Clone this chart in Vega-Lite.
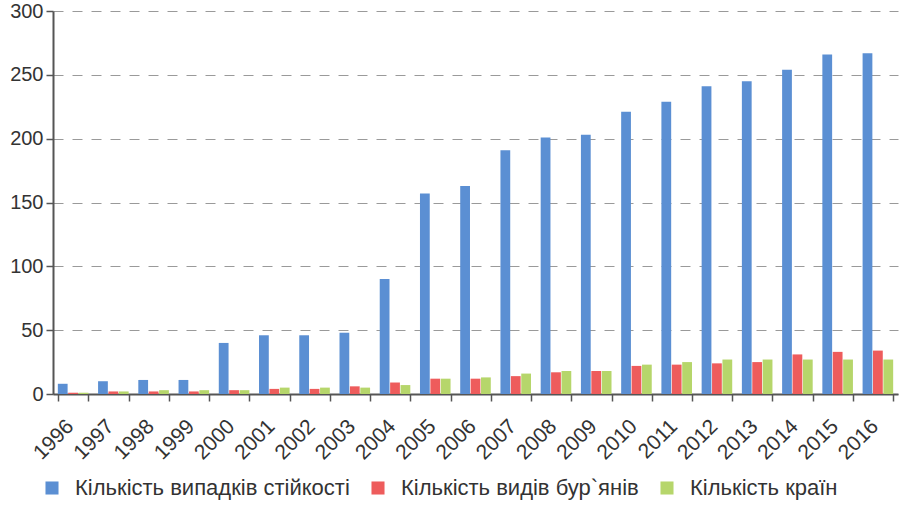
{
  "$schema": "https://vega.github.io/schema/vega-lite/v6.json",
  "width": 845,
  "height": 383,
  "autosize": {"type": "none"},
  "padding": {"left": 53, "top": 11, "right": 2, "bottom": 115},
  "background": "white",
  "config": {
    "view": {"stroke": null},
    "font": "Liberation Sans",
    "axis": {"labelFont": "Liberation Sans", "labelColor": "#333333", "domainColor": "#555555", "tickColor": "#555555"}
  },
  "data": {
    "values": [
      {"year": "1996", "series": "Кількість випадків стійкості", "value": 8},
      {"year": "1997", "series": "Кількість випадків стійкості", "value": 10},
      {"year": "1998", "series": "Кількість випадків стійкості", "value": 11},
      {"year": "1999", "series": "Кількість випадків стійкості", "value": 11},
      {"year": "2000", "series": "Кількість випадків стійкості", "value": 40},
      {"year": "2001", "series": "Кількість випадків стійкості", "value": 46},
      {"year": "2002", "series": "Кількість випадків стійкості", "value": 46},
      {"year": "2003", "series": "Кількість випадків стійкості", "value": 48},
      {"year": "2004", "series": "Кількість випадків стійкості", "value": 90},
      {"year": "2005", "series": "Кількість випадків стійкості", "value": 157},
      {"year": "2006", "series": "Кількість випадків стійкості", "value": 163},
      {"year": "2007", "series": "Кількість випадків стійкості", "value": 191},
      {"year": "2008", "series": "Кількість випадків стійкості", "value": 201},
      {"year": "2009", "series": "Кількість випадків стійкості", "value": 203},
      {"year": "2010", "series": "Кількість випадків стійкості", "value": 221},
      {"year": "2011", "series": "Кількість випадків стійкості", "value": 229},
      {"year": "2012", "series": "Кількість випадків стійкості", "value": 241},
      {"year": "2013", "series": "Кількість випадків стійкості", "value": 245},
      {"year": "2014", "series": "Кількість випадків стійкості", "value": 254},
      {"year": "2015", "series": "Кількість випадків стійкості", "value": 266},
      {"year": "2016", "series": "Кількість випадків стійкості", "value": 267},
      {"year": "1996", "series": "Кількість видів бур`янів", "value": 1},
      {"year": "1997", "series": "Кількість видів бур`янів", "value": 2},
      {"year": "1998", "series": "Кількість видів бур`янів", "value": 2},
      {"year": "1999", "series": "Кількість видів бур`янів", "value": 2},
      {"year": "2000", "series": "Кількість видів бур`янів", "value": 3},
      {"year": "2001", "series": "Кількість видів бур`янів", "value": 4},
      {"year": "2002", "series": "Кількість видів бур`янів", "value": 4},
      {"year": "2003", "series": "Кількість видів бур`янів", "value": 6},
      {"year": "2004", "series": "Кількість видів бур`янів", "value": 9},
      {"year": "2005", "series": "Кількість видів бур`янів", "value": 12},
      {"year": "2006", "series": "Кількість видів бур`янів", "value": 12},
      {"year": "2007", "series": "Кількість видів бур`янів", "value": 14},
      {"year": "2008", "series": "Кількість видів бур`янів", "value": 17},
      {"year": "2009", "series": "Кількість видів бур`янів", "value": 18},
      {"year": "2010", "series": "Кількість видів бур`янів", "value": 22},
      {"year": "2011", "series": "Кількість видів бур`янів", "value": 23},
      {"year": "2012", "series": "Кількість видів бур`янів", "value": 24},
      {"year": "2013", "series": "Кількість видів бур`янів", "value": 25},
      {"year": "2014", "series": "Кількість видів бур`янів", "value": 31},
      {"year": "2015", "series": "Кількість видів бур`янів", "value": 33},
      {"year": "2016", "series": "Кількість видів бур`янів", "value": 34},
      {"year": "1996", "series": "Кількість країн", "value": 1},
      {"year": "1997", "series": "Кількість країн", "value": 2},
      {"year": "1998", "series": "Кількість країн", "value": 3},
      {"year": "1999", "series": "Кількість країн", "value": 3},
      {"year": "2000", "series": "Кількість країн", "value": 3},
      {"year": "2001", "series": "Кількість країн", "value": 5},
      {"year": "2002", "series": "Кількість країн", "value": 5},
      {"year": "2003", "series": "Кількість країн", "value": 5},
      {"year": "2004", "series": "Кількість країн", "value": 7},
      {"year": "2005", "series": "Кількість країн", "value": 12},
      {"year": "2006", "series": "Кількість країн", "value": 13},
      {"year": "2007", "series": "Кількість країн", "value": 16},
      {"year": "2008", "series": "Кількість країн", "value": 18},
      {"year": "2009", "series": "Кількість країн", "value": 18},
      {"year": "2010", "series": "Кількість країн", "value": 23},
      {"year": "2011", "series": "Кількість країн", "value": 25},
      {"year": "2012", "series": "Кількість країн", "value": 27},
      {"year": "2013", "series": "Кількість країн", "value": 27},
      {"year": "2014", "series": "Кількість країн", "value": 27},
      {"year": "2015", "series": "Кількість країн", "value": 27},
      {"year": "2016", "series": "Кількість країн", "value": 27}
    ]
  },
  "mark": {"type": "bar"},
  "encoding": {
    "x": {
      "field": "year",
      "type": "nominal",
      "title": null,
      "scale": {"paddingInner": 0.24, "paddingOuter": 0.12},
      "axis": {
        "labelAngle": -45,
        "labelAlign": "right",
        "labelBaseline": "middle",
        "labelFontSize": 21,
        "labelPadding": 22,
        "labelOffset": -3,
        "tickBand": "extent",
        "tickSize": 7,
        "tickWidth": 1.5,
        "domainWidth": 2,
        "grid": false
      }
    },
    "xOffset": {
      "field": "series",
      "type": "nominal",
      "sort": ["Кількість випадків стійкості", "Кількість видів бур`янів", "Кількість країн"],
      "scale": {"paddingInner": 0.06}
    },
    "y": {
      "field": "value",
      "type": "quantitative",
      "title": null,
      "scale": {"domain": [0, 300], "nice": false},
      "axis": {
        "values": [0, 50, 100, 150, 200, 250, 300],
        "labelFontSize": 20,
        "labelPadding": 3,
        "tickSize": 7,
        "tickWidth": 1.5,
        "domainWidth": 2,
        "grid": true,
        "gridColor": "#9a9a9a",
        "gridDash": [10, 9],
        "gridWidth": 1
      }
    },
    "color": {
      "field": "series",
      "type": "nominal",
      "sort": ["Кількість випадків стійкості", "Кількість видів бур`янів", "Кількість країн"],
      "scale": {
        "domain": ["Кількість випадків стійкості", "Кількість видів бур`янів", "Кількість країн"],
        "range": ["#5b8fd3", "#ee5c5c", "#b6d66b"]
      },
      "legend": {
        "title": null,
        "orient": "none",
        "direction": "horizontal",
        "legendX": -12,
        "legendY": 466,
        "symbolType": "square",
        "symbolSize": 170,
        "symbolStrokeWidth": 0,
        "labelFontSize": 22,
        "labelFont": "Liberation Sans",
        "labelColor": "#333333",
        "labelLimit": 400,
        "columnPadding": 17,
        "labelOffset": 12
      }
    }
  }
}
